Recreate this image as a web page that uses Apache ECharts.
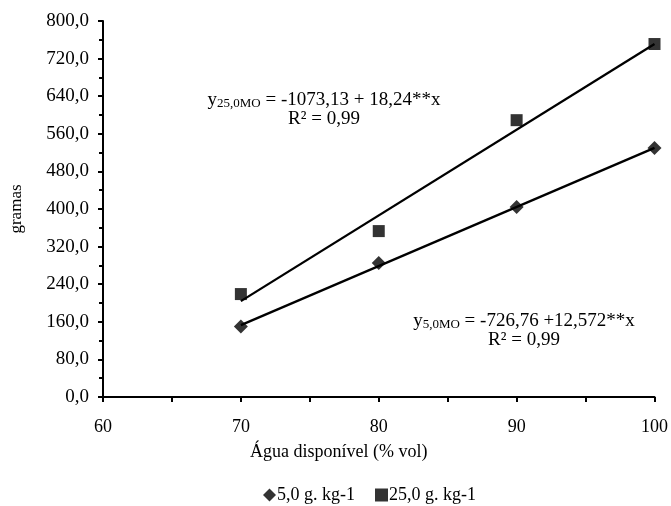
<!DOCTYPE html>
<html>
<head>
<meta charset="utf-8">
<script src="https://cdn.jsdelivr.net/npm/echarts@6/dist/echarts.min.js"></script>
<style>
  html, body { margin: 0; padding: 0; background: #fff; }
  #chart { width: 671px; height: 506px; }
</style>
</head>
<body>
<div id="chart"></div>
<script>
// water availability (% vol)
var agua = [70, 80, 90, 100];
// measured values (gramas)
var mo5 = [150, 285, 404, 530];
var mo25 = [219, 353, 589, 751];
// fitted lines, endpoints
var fit5 = [[70, 153], [100, 530]];
var fit25 = [[70, 204], [100, 751]];

var seriesNames = ['5,0 g. kg-1', '25,0 g. kg-1'];
var diamond = 'path://M5,0 L10,5 L5,10 L0,5 Z';
var font = '"Liberation Serif", "Times New Roman", serif';

function pairs(xs, ys) {
    return xs.map(function (x, i) { return [x, ys[i]]; });
}

var eqRich = {
    a: { fontFamily: font, fontSize: 19, lineHeight: 19, color: '#000' },
    s: { fontFamily: font, fontSize: 13, lineHeight: 19, color: '#000', verticalAlign: 'bottom', padding: [6, 0, 0, 0] }
};

var option = {
    animation: false,
    backgroundColor: '#fff',
    textStyle: { fontFamily: font, color: '#000' },
    grid: { left: 95, right: 15, top: 21, bottom: 109 },
    legend: {
        data: [
            { name: seriesNames[0], icon: diamond },
            { name: seriesNames[1], icon: 'rect' }
        ],
        top: 481,
        left: 258,
        itemWidth: 13,
        itemHeight: 13,
        itemGap: 20,
        textStyle: { fontFamily: font, fontSize: 18, color: '#000', padding: [0, 0, 0, -4] }
    },
    xAxis: {
        type: 'value',
        min: 60,
        max: 100,
        interval: 5,
        axisLine: { lineStyle: { color: '#000', width: 2 } },
        axisTick: { show: true, inside: false, length: 5, lineStyle: { color: '#000', width: 2 } },
        axisLabel: {
            fontFamily: font, fontSize: 18, color: '#000', margin: 21,
            formatter: function (v) { return v % 10 === 0 ? String(v) : ''; }
        },
        splitLine: { show: false }
    },
    yAxis: {
        type: 'value',
        min: 0,
        max: 800,
        interval: 80,
        name: 'gramas',
        nameLocation: 'middle',
        nameGap: 78,
        nameTextStyle: { fontFamily: font, fontSize: 17, color: '#000' },
        axisLine: { show: true, lineStyle: { color: '#000', width: 2 } },
        axisTick: { show: true, inside: false, length: 5, lineStyle: { color: '#000', width: 2 } },
        minorTick: { show: true, splitNumber: 2, length: 4, lineStyle: { color: '#000', width: 2 } },
        axisLabel: {
            fontFamily: font, fontSize: 19, color: '#000', margin: 14,
            formatter: function (v) { return v.toFixed(1).replace('.', ','); }
        },
        splitLine: { show: false }
    },
    series: [
        {
            name: 'fit5',
            type: 'line',
            data: fit5,
            symbol: 'none',
            lineStyle: { color: '#000', width: 2.3 },
            z: 1
        },
        {
            name: 'fit25',
            type: 'line',
            data: fit25,
            symbol: 'none',
            lineStyle: { color: '#000', width: 2.3 },
            z: 1
        },
        {
            name: seriesNames[0],
            type: 'scatter',
            data: pairs(agua, mo5),
            symbol: diamond,
            symbolSize: 14,
            itemStyle: { color: '#000' },
            z: 3
        },
        {
            name: seriesNames[1],
            type: 'scatter',
            data: pairs(agua, mo25),
            symbol: 'rect',
            symbolSize: 12,
            itemStyle: { color: '#000' },
            z: 3
        }
    ],
    graphic: [
        {
            type: 'text',
            x: 324,
            y: 110,
            style: {
                text: '{a|y}{s|25,0MO}{a| = -1073,13 + 18,24**x}\n{a|R² = 0,99}',
                align: 'center',
                verticalAlign: 'middle',
                rich: eqRich
            }
        },
        {
            type: 'text',
            x: 524,
            y: 331,
            style: {
                text: '{a|y}{s|5,0MO}{a| = -726,76 +12,572**x}\n{a|R² = 0,99}',
                align: 'center',
                verticalAlign: 'middle',
                rich: eqRich
            }
        },
        {
            type: 'text',
            x: 250,
            y: 452,
            style: {
                text: 'Água disponível (% vol)',
                fontFamily: font,
                fontSize: 18,
                fill: '#000',
                align: 'left',
                verticalAlign: 'middle'
            }
        }
    ]
};

var chart = echarts.init(document.getElementById('chart'));
chart.setOption(option);
</script>
</body>
</html>
